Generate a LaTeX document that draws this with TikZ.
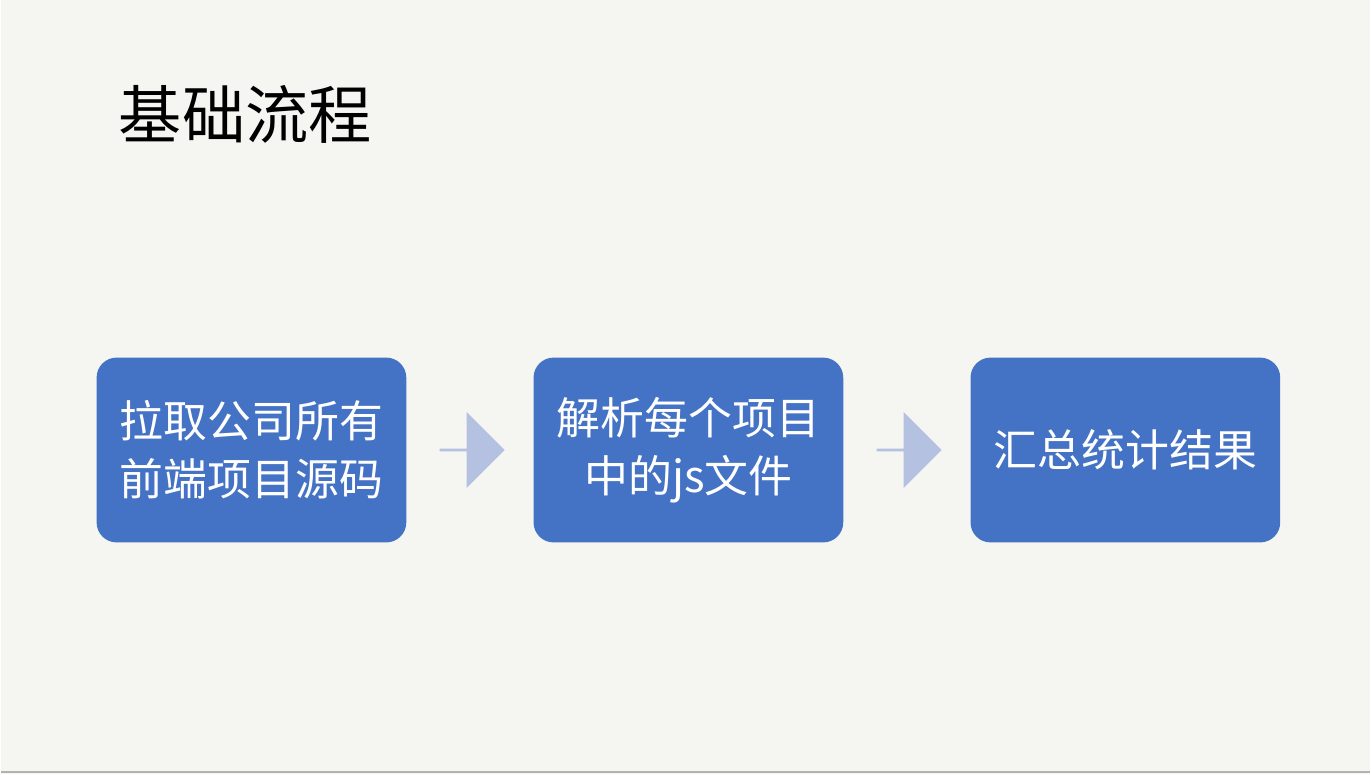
\documentclass[tikz,border=0pt]{standalone}
\usepackage{fontspec}
\newfontfamily\cjk{Noto Sans CJK SC}
\usetikzlibrary{positioning}
\usetikzlibrary{shapes.arrows}
\definecolor{slidebg}{HTML}{F5F6F1}
\definecolor{boxblue}{HTML}{4472C4}
\definecolor{arrowblue}{HTML}{B4C1E0}
\tikzset {
  % process step boxes
  stepbox/.style = {fill=boxblue, rounded corners=0.2cm, minimum width=3.1cm,
    minimum height=1.85cm, text=white, align=center, inner sep=0pt,
    font=\cjk\fontsize{12.5}{16.5}\selectfont},
  % light arrows between steps
  flow/.style = {single arrow, fill=arrowblue, minimum width=0.76cm,
    minimum height=0.65cm, single arrow head extend=0.18cm, inner sep=0pt},
}
\begin{document}
\begin{tikzpicture}[node distance={1.26cm}]
  \fill[slidebg] (0,0) rectangle (13.71,7.75);
  \draw[gray!60] (0,0.02) -- (13.71,0.02);
  \useasboundingbox (0,0) rectangle (13.71,7.75);

  \node[anchor=west, font=\cjk\fontsize{18}{20}\selectfont] (title) at (1.06,6.6) {基础流程};

  \node[stepbox] (pull) at (2.51,3.245) {拉取公司所有\\前端项目源码};
  \node[stepbox] (parse) [right=of pull] {解析每个项目\\中的js文件};
  \node[stepbox] (sum) [right=of parse] {汇总统计结果};

  \node[flow] (a1) [right=0.32cm of pull] {};
  \node[flow] (a2) [right=0.32cm of parse] {};
\end{tikzpicture}
\end{document}
